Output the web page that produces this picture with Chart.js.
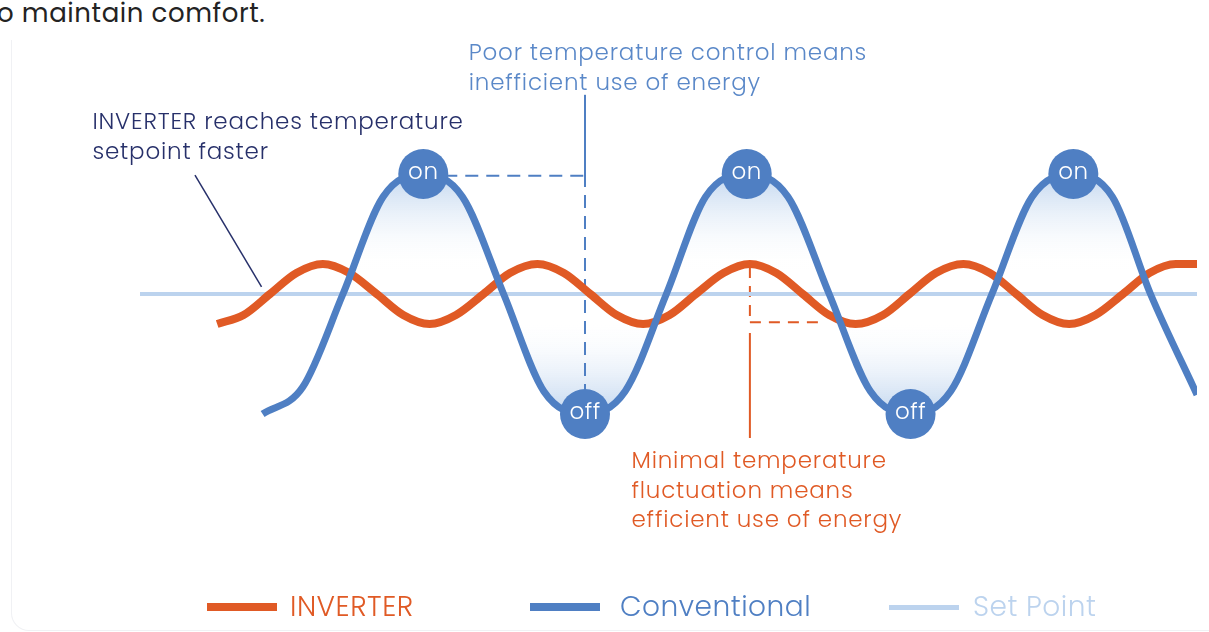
<!DOCTYPE html>
<html>
<head>
<meta charset="utf-8">
<script src="https://cdn.jsdelivr.net/npm/chart.js@4.4.1/dist/chart.umd.min.js"></script>
<style>
  html, body { margin: 0; padding: 0; background: #fff; overflow: hidden; }
  body { width: 1209px; height: 632px; position: relative; font-family: Poppins, Inter, "Open Sans", sans-serif; }
  .intro { position: absolute; left: -3px; top: -6px; font-size: 26px; letter-spacing: 0.6px; color: #232323; white-space: nowrap; }
  .card { position: absolute; left: 11px; top: 40px; width: 1240px; height: 590px; border: 1px solid #f0f1f4; border-top: none; border-radius: 0 0 18px 18px; }
  #chart { position: absolute; left: 0; top: 0; }
  .leg { position: absolute; top: 589px; height: 36px; font-size: 28px; font-weight: 300; letter-spacing: 0.5px; line-height: 36px; white-space: nowrap; }
  .leg i { position: absolute; top: 50%; display: block; width: 70px; }
</style>
</head>
<body>
<div class="intro">o maintain comfort.</div>
<div class="card"></div>
<canvas id="chart" width="1209" height="632"></canvas>
<div id="legend"></div>
<script>
// time along the x axis (0-100), temperature offset from the set point
const setpointTime = [0, 100];
const setpointTemp = [0, 0];

const conventionalTime = [11.6, 15.4, 19.2, 23.0, 26.8, 30.5, 34.4, 38.2, 42.1, 45.9, 49.8, 53.5,
  57.4, 61.3, 65.2, 69.1, 72.9, 76.7, 80.6, 84.4, 88.3, 92.0, 95.6, 100];
const conventionalTemp = [-2.0, -1.55, 0, 1.62, 2.0, 1.62, 0, -1.62, -2.0, -1.62, 0, 1.62,
  2.0, 1.62, 0, -1.62, -2.0, -1.62, 0, 1.62, 2.0, 1.62, 0, -1.68];

const inverterTime = [7.3, 9.8, 12.3, 14.8, 17.3, 19.8, 22.4, 24.9, 27.4, 29.9, 32.5, 35.0,
  37.6, 40.1, 42.6, 45.1, 47.6, 50.1, 52.6, 55.2, 57.7, 60.2, 62.7, 65.2, 67.7, 70.3,
  72.8, 75.3, 77.9, 80.4, 82.9, 85.4, 87.9, 90.4, 93.0, 95.5, 98.0, 100];
const inverterTemp = [-0.5, -0.35, 0, 0.35, 0.5, 0.35, 0, -0.35, -0.5, -0.35, 0, 0.35,
  0.5, 0.35, 0, -0.35, -0.5, -0.35, 0, 0.35, 0.5, 0.35, 0, -0.35, -0.5, -0.35,
  0, 0.35, 0.5, 0.35, 0, -0.35, -0.5, -0.35, 0, 0.35, 0.5, 0.5];

const onTimes = [26.8, 57.4, 88.3];
const onTemps = [2.0, 2.0, 2.0];
const offTimes = [42.1, 72.9];
const offTemps = [-2.0, -2.0];

// shaded part of the conventional curve: first to last crossing of the set point
const shadeFrom = 19.2;
const shadeTo = 95.6;

const BLUE = "#4f7fc3";
const ORANGE = "#e05a25";
const SETPT = "#bcd3ee";
const NAVY = "#27306a";
const NOTE_BLUE = "#5a88c8";
const FONT = "Poppins, Inter, 'Open Sans', sans-serif";

const pts = (xs, ys) => xs.map((x, i) => ({ x: x, y: ys[i] }));

const conventional = pts(conventionalTime, conventionalTemp);
const shade = conventional.filter((p) => p.x >= shadeFrom && p.x <= shadeTo);
const markers = pts(onTimes, onTemps).map((p) => ({ ...p, label: "on" }))
  .concat(pts(offTimes, offTemps).map((p) => ({ ...p, label: "off" })));

const notes = [
  { lines: ["Poor temperature control means", "inefficient use of energy"], x: 31.1, y: 3.9, color: NOTE_BLUE },
  { lines: ["INVERTER reaches temperature", "setpoint faster"], x: -4.5, y: 2.75, color: NAVY },
  { lines: ["Minimal temperature", "fluctuation means", "efficient use of energy"], x: 46.5, y: -2.9, color: ORANGE },
];

const shadeGradient = (context) => {
  const chart = context.chart;
  if (!chart.chartArea) return "rgba(200,220,240,0.5)";
  const y = chart.scales.y;
  const top = y.getPixelForValue(2), bottom = y.getPixelForValue(-2);
  const g = chart.ctx.createLinearGradient(0, top, 0, bottom);
  g.addColorStop(0, "rgba(190,212,238,0.95)");
  g.addColorStop(0.4, "rgba(255,255,255,0)");
  g.addColorStop(0.6, "rgba(255,255,255,0)");
  g.addColorStop(1, "rgba(190,212,238,0.95)");
  return g;
};

const line = (ctx, x1, y1, x2, y2, color, width, dash) => {
  ctx.save();
  ctx.strokeStyle = color;
  ctx.lineWidth = width;
  ctx.setLineDash(dash || []);
  ctx.beginPath();
  ctx.moveTo(x1, y1);
  ctx.lineTo(x2, y2);
  ctx.stroke();
  ctx.restore();
};

const guides = {
  id: "guides",
  afterDatasetDraw(chart, args) {
    if (args.index !== 4) return;
    const ctx = chart.ctx, X = chart.scales.x, Y = chart.scales.y;
    const px = (v) => X.getPixelForValue(v), py = (v) => Y.getPixelForValue(v);
    const dash = [13, 8];
    // conventional: on-peak to off-trough
    line(ctx, px(offTimes[0]), py(3.32), px(offTimes[0]), py(2.0), BLUE, 2);
    line(ctx, px(offTimes[0]), py(2.0), px(offTimes[0]), py(-1.7), BLUE, 2, dash);
    line(ctx, px(onTimes[0]), py(1.97), px(offTimes[0]), py(1.97), BLUE, 2, dash);
    // inverter: peak to trough
    line(ctx, px(57.7), py(0.45), px(57.7), py(-0.47), ORANGE, 2, [11, 8]);
    line(ctx, px(57.7), py(-0.47), px(64.5), py(-0.47), ORANGE, 2, [11, 8]);
    line(ctx, px(57.7), py(-0.65), px(57.7), py(-2.4), ORANGE, 2);
  },
  afterDatasetsDraw(chart) {
    const ctx = chart.ctx;
    const meta = chart.getDatasetMeta(0);
    ctx.save();
    ctx.fillStyle = "#fff";
    ctx.font = "300 23px " + FONT;
    ctx.letterSpacing = "0.5px";
    ctx.textAlign = "center";
    ctx.textBaseline = "middle";
    meta.data.forEach((el, i) => {
      ctx.fillText(markers[i].label, el.x, el.y - 1);
    });
    ctx.restore();
  },
  afterDraw(chart) {
    const ctx = chart.ctx, X = chart.scales.x, Y = chart.scales.y;
    // pointer from the INVERTER note to the first set point crossing
    line(ctx, X.getPixelForValue(5.2), Y.getPixelForValue(1.98), X.getPixelForValue(11.5), Y.getPixelForValue(0.12), NAVY, 1.5);
    ctx.save();
    ctx.font = "300 23px " + FONT;
    ctx.letterSpacing = "0.8px";
    ctx.textBaseline = "alphabetic";
    notes.forEach((n) => {
      ctx.fillStyle = n.color;
      n.lines.forEach((t, i) => {
        ctx.fillText(t, X.getPixelForValue(n.x), Y.getPixelForValue(n.y) + i * 29.5);
      });
    });
    ctx.restore();
  },
};

const chart = new Chart(document.getElementById("chart"), {
  type: "line",
  data: {
    datasets: [
      {
        label: "markers",
        data: markers,
        showLine: false,
        pointRadius: 25,
        pointHoverRadius: 25,
        pointBackgroundColor: BLUE,
        pointBorderWidth: 0,
      },
      {
        label: "Conventional",
        data: conventional,
        borderColor: BLUE,
        borderWidth: 7,
        cubicInterpolationMode: "monotone",
        fill: false,
      },
      {
        label: "INVERTER",
        data: pts(inverterTime, inverterTemp),
        borderColor: ORANGE,
        borderWidth: 8,
        cubicInterpolationMode: "monotone",
        fill: false,
      },
      {
        label: "Set Point",
        data: pts(setpointTime, setpointTemp),
        borderColor: SETPT,
        borderWidth: 4,
        fill: false,
      },
      {
        label: "shade",
        data: shade,
        borderWidth: 0,
        borderColor: "rgba(0,0,0,0)",
        backgroundColor: shadeGradient,
        cubicInterpolationMode: "monotone",
        fill: { value: 0 },
      },
    ],
  },
  options: {
    responsive: false,
    animation: false,
    layout: { autoPadding: false, padding: { left: 140, right: 12, top: 54, bottom: 98 } },
    elements: { point: { radius: 0 } },
    scales: {
      x: { type: "linear", min: 0, max: 100, display: false },
      y: { min: -4, max: 4, display: false },
    },
    plugins: { legend: { display: false }, tooltip: { enabled: false } },
  },
  plugins: [guides],
});

// legend drawn as html below the chart
const legendOrder = ["INVERTER", "Conventional", "Set Point"];
const legendLeft = [207, 530, 889];
const legendTextLeft = [290, 620, 973];
const legendThick = [8, 8, 5];
const legend = document.getElementById("legend");
legendOrder.forEach((name, i) => {
  const ds = chart.data.datasets.find((d) => d.label === name);
  const el = document.createElement("div");
  el.className = "leg";
  el.style.left = legendLeft[i] + "px";
  el.style.paddingLeft = legendTextLeft[i] - legendLeft[i] + "px";
  el.style.color = ds.borderColor;
  const sw = document.createElement("i");
  sw.style.left = "0px";
  sw.style.height = legendThick[i] + "px";
  sw.style.marginTop = -legendThick[i] / 2 + "px";
  sw.style.background = ds.borderColor;
  el.appendChild(sw);
  el.appendChild(document.createTextNode(name));
  legend.appendChild(el);
});
</script>
</body>
</html>
